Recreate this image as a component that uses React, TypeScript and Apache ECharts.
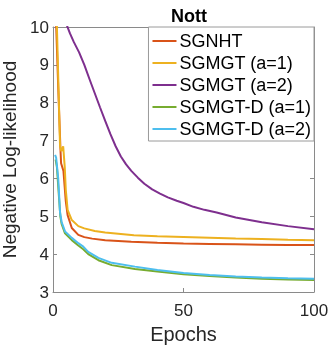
import React, { useEffect, useRef } from "react";
import * as echarts from "echarts";

const seriesNames = ["SGNHT", "SGMGT (a=1)", "SGMGT (a=2)", "SGMGT-D (a=1)", "SGMGT-D (a=2)"];
const seriesColors = ["#D95319", "#EDB120", "#7E2F8E", "#77AC30", "#4DBEEE"];

const sgnhtEpochs = [0, 1, 2, 2.9, 3.1, 4, 4.9, 5.6, 7.2, 9.7, 12, 15, 20, 30, 40, 50, 60, 70, 80, 90, 100];
const sgnhtValues = [13, 10.5, 8.4, 6.7, 6.4, 6.2, 5.4, 5.03, 4.69, 4.51, 4.45, 4.41, 4.37, 4.33, 4.3, 4.28, 4.27, 4.26, 4.25, 4.24, 4.24];

const sgmgt1Epochs = [0.5, 1.5, 2.7, 3.2, 3.9, 4.5, 4.9, 5.6, 7.2, 9.7, 12, 16, 20, 31, 40, 50, 60, 70, 80, 90, 100];
const sgmgt1Values = [13, 10, 6.85, 6.72, 6.85, 6.3, 5.7, 5.17, 4.9, 4.74, 4.68, 4.61, 4.57, 4.5, 4.47, 4.45, 4.43, 4.41, 4.4, 4.38, 4.37];

const sgmgt2Epochs = [5, 6.5, 8, 10, 12, 14, 16, 18, 20, 22, 24, 26, 28, 30, 32.5, 35, 38, 41, 44, 47.4, 50, 53.8, 58, 62.7, 70, 80, 90, 100];
const sgmgt2Values = [10.1, 9.83, 9.6, 9.33, 9.0, 8.62, 8.25, 7.88, 7.52, 7.17, 6.85, 6.58, 6.37, 6.2, 6.02, 5.86, 5.71, 5.6, 5.5, 5.41, 5.35, 5.25, 5.17, 5.1, 4.97, 4.84, 4.74, 4.66];

const sgmgtD1Epochs = [1, 1.5, 2.2, 2.8, 3.3, 4.6, 7.2, 9.7, 11.6, 13.5, 17.4, 22.5, 31.4, 40, 50, 60, 70, 80, 90, 100];
const sgmgtD1Values = [6.5, 6.3, 5.6, 5.0, 4.8, 4.55, 4.37, 4.23, 4.13, 4.0, 3.84, 3.71, 3.61, 3.54, 3.47, 3.42, 3.38, 3.35, 3.33, 3.32];

const sgmgtD2Epochs = [0.8, 1.2, 2, 2.7, 3.3, 4.6, 7.2, 9.7, 11.6, 13.5, 17.4, 22.5, 31.4, 40, 50, 60, 70, 80, 90, 100];
const sgmgtD2Values = [6.62, 6.55, 6.0, 5.1, 4.85, 4.6, 4.43, 4.29, 4.2, 4.06, 3.9, 3.77, 3.67, 3.58, 3.5, 3.45, 3.41, 3.38, 3.36, 3.35];

const xTicks = { min: 0, max: 100, interval: 50 };
const yTicks = { min: 3, max: 10, interval: 1 };

const allEpochs = [sgnhtEpochs, sgmgt1Epochs, sgmgt2Epochs, sgmgtD1Epochs, sgmgtD2Epochs];
const allValues = [sgnhtValues, sgmgt1Values, sgmgt2Values, sgmgtD1Values, sgmgtD2Values];

const FONT = "'Liberation Sans', Arial, Helvetica, sans-serif";
const AXIS_COLOR = "#8a8a8a";
const TEXT_COLOR = "#262626";

export default function App() {
  const ref = useRef<HTMLDivElement>(null);
  useEffect(() => {
    if (!ref.current) return;
    const chart = echarts.init(ref.current, undefined, { renderer: "svg" });
    const axisLine = { show: true, onZero: false, lineStyle: { color: AXIS_COLOR, width: 1 } };
    const axisTick = { show: true, inside: true, length: 4, lineStyle: { color: AXIS_COLOR, width: 1 } };
    chart.setOption({
      animation: false,
      textStyle: { fontFamily: FONT },
      title: {
        text: "Nott",
        left: 184,
        top: 2,
        textAlign: "center",
        textStyle: { fontFamily: FONT, fontSize: 18, fontWeight: "bold", color: "#000" },
      },
      grid: { left: 53, right: 18, top: 27, bottom: 57, containLabel: false, outerBoundsMode: "none" },
      legend: {
        data: seriesNames,
        orient: "vertical",
        right: 18,
        top: 27,
        icon: "rect",
        itemWidth: 24,
        itemHeight: 2,
        itemGap: 2,
        selectedMode: false,
        backgroundColor: "#fff",
        borderColor: "#9a9a9a",
        borderWidth: 1,
        borderRadius: 0,
        padding: [4, 3, 2, 4],
        textStyle: { fontFamily: FONT, fontSize: 18, lineHeight: 20, color: "#000", padding: [0, 0, 0, -2] },
      },
      xAxis: [
        {
          type: "value",
          position: "bottom",
          ...xTicks,
          axisLine,
          axisTick,
          splitLine: { show: false },
          axisLabel: { fontFamily: FONT, fontSize: 17, color: TEXT_COLOR, margin: 10 },
          name: "Epochs",
          nameLocation: "middle",
          nameGap: 31,
          nameTextStyle: { fontFamily: FONT, fontSize: 20, color: TEXT_COLOR },
        },
        {
          type: "value",
          position: "top",
          ...xTicks,
          axisLine,
          axisTick,
          splitLine: { show: false },
          axisLabel: { show: false },
        },
      ],
      yAxis: [
        {
          type: "value",
          position: "left",
          ...yTicks,
          axisLine,
          axisTick,
          splitLine: { show: false },
          axisLabel: { fontFamily: FONT, fontSize: 17, color: TEXT_COLOR, margin: 4, padding: [8, 0, 0, 0] },
          name: "Negative Log-likelihood",
          nameLocation: "middle",
          nameGap: 29,
          nameTextStyle: { fontFamily: FONT, fontSize: 19, lineHeight: 20, color: TEXT_COLOR },
        },
        {
          type: "value",
          position: "right",
          ...yTicks,
          axisLine,
          axisTick,
          splitLine: { show: false },
          axisLabel: { show: false },
        },
      ],
      series: seriesNames.map((name, i) => ({
        name,
        type: "line",
        xAxisIndex: 0,
        yAxisIndex: 0,
        color: seriesColors[i],
        symbol: "none",
        showSymbol: false,
        clip: true,
        lineStyle: { width: 2, color: seriesColors[i] },
        data: allEpochs[i].map((x, j) => [x, allValues[i][j]]),
      })),
    });
    return () => chart.dispose();
  }, []);
  return <div ref={ref} style={{ position: "fixed", left: 0, top: 0, width: 332, height: 349 }} />;
}
